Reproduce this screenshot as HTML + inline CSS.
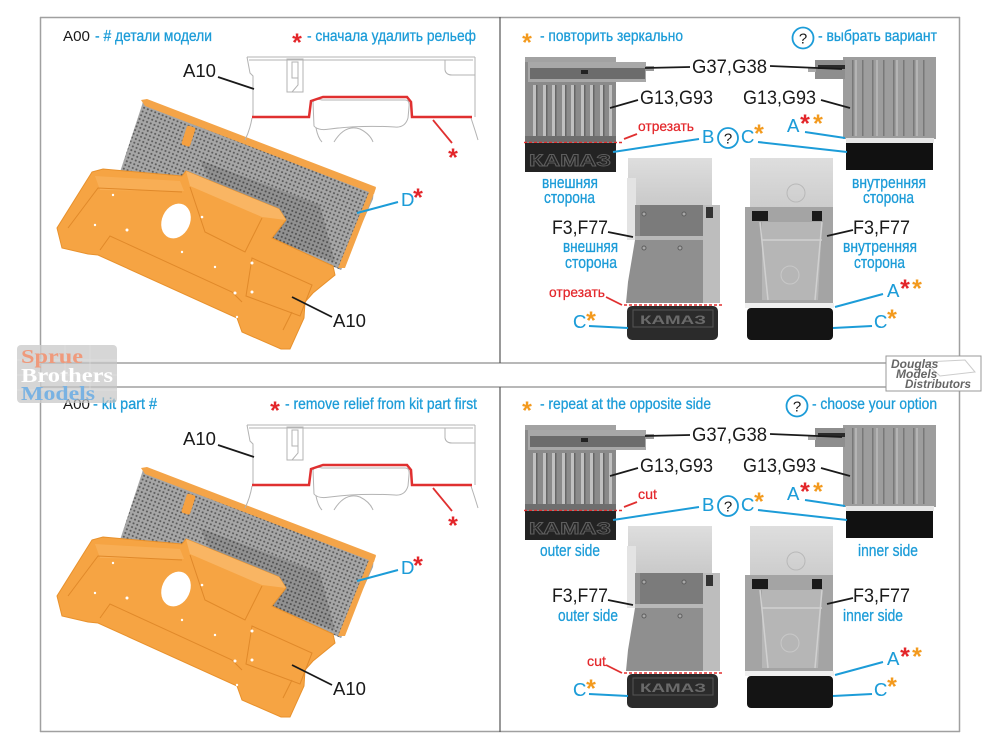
<!DOCTYPE html>
<html><head><meta charset="utf-8"><style>
html,body{margin:0;padding:0;background:#fff;}
svg{display:block;}
text{font-family:"Liberation Sans",Arial,sans-serif;}
.serif{font-family:"Liberation Serif",serif;}
</style></head><body>
<svg width="1000" height="750" viewBox="0 0 1000 750" xmlns="http://www.w3.org/2000/svg">
<defs>
<pattern id="mesh" patternUnits="userSpaceOnUse" width="4" height="4" patternTransform="rotate(22)">
<rect width="4" height="4" fill="#a6a6a6"/>
<circle cx="2" cy="2" r="1.05" fill="#585858"/>
</pattern>
<linearGradient id="lightbox" x1="0" y1="0" x2="0" y2="1">
<stop offset="0" stop-color="#dedede"/><stop offset="1" stop-color="#c9c9c9"/>
</linearGradient>

<g id="part">
<polygon points="143,102 374,189 373,199 341,270 120,172" fill="url(#mesh)"/>
<polygon points="200,160 320,205 335,262 230,225" fill="#000" opacity="0.12"/>
<polygon points="141,100 147,99 376,187 374,194 145,106" fill="#f4a448"/>
<polygon points="369,192 376,188 345,268 338,268" fill="#f4a448"/>
<rect x="184" y="126" width="9" height="20" rx="2" fill="#f5a040" transform="rotate(18 188 136)"/>
<polygon points="92,172 103,169 182,176 186,171 279,209 286,220 272,238 333,266 335,275 313,293 305,302 304,318 290,349 281,349 242,332 237,318 98,255 88,254 62,248 57,228" fill="#f6a443" stroke="#e8912c" stroke-width="1"/>
<polygon points="186,171 279,209 286,220 262,217 190,186" fill="#f9b563"/>
<polygon points="95,176 180,181 184,191 100,190" fill="#f8ae55"/>
<g fill="none" stroke="#e0892a" stroke-width="1">
<path d="M68,228 L98,188 L182,192"/>
<path d="M100,250 L110,236 L232,292 L242,302"/>
<path d="M252,258 L312,285 L300,316 L246,296 Z"/>
<path d="M190,187 L205,232 L245,252 L262,218"/>
<path d="M283,330 L292,312"/>
</g>
<ellipse cx="176" cy="221" rx="14" ry="18" transform="rotate(25 176 221)" fill="#fff"/>
<g fill="#fff">
<circle cx="127" cy="230" r="1.5"/><circle cx="95" cy="225" r="1.2"/><circle cx="113" cy="195" r="1.2"/>
<circle cx="202" cy="217" r="1.3"/><circle cx="182" cy="252" r="1.2"/><circle cx="215" cy="267" r="1.2"/>
<circle cx="252" cy="263" r="1.5"/><circle cx="235" cy="293" r="1.5"/><circle cx="252" cy="292" r="1.5"/>
<circle cx="237" cy="317" r="1.2"/>
</g>
</g>

<g id="draw">
<g fill="none" stroke="#b3b3b3" stroke-width="1">
<path d="M247,57 L475,57 M249,60 L473,60"/>
<path d="M247,57 L250,73 L253,76 L253,117"/>
<path d="M475,57 L475,117"/>
<path d="M445,60 L445,70 Q446,75 452,75 L475,75"/>
<rect x="287" y="59" width="16" height="33"/>
<rect x="292" y="62" width="6" height="16"/>
<path d="M298,78 L298,85 L292,92"/>
<path d="M252,118 Q250,130 245,140"/>
<path d="M471,118 Q475,130 478,140"/>
<path d="M313,102 Q315,98 322,100 L405,100 Q410,100 409,107 L408,118 Q405,128 395,127 Q360,125 330,129 Q318,131 314,126 Z"/>
<path d="M316,128 Q318,138 322,142"/>
<path d="M334,142 Q345,124 360,129 Q370,134 373,142"/>
</g>
<path d="M252,117 L309,117 L311,101 L323,97 L407,97 L411,102 L412,117 L472,117" fill="none" stroke="#e03030" stroke-width="2.5"/>
<path d="M433,120 L452,143" stroke="#e03030" stroke-width="1.8"/>
</g>

<g id="photos">
<rect x="525" y="57" width="91" height="86" fill="#8a8a8a"/>
<rect x="525" y="57" width="91" height="5" fill="#a2a2a2"/>
<rect x="528" y="62" width="118" height="20" fill="#a8a8a8"/>
<rect x="530" y="68" width="115" height="11" fill="#6c6c6c"/>
<rect x="645" y="66" width="9" height="5" fill="#999"/>
<rect x="581" y="70" width="7" height="4" fill="#222"/>
<g fill="#c0c0c0">
<rect x="533" y="85" width="3" height="52"/><rect x="543" y="85" width="3" height="52"/><rect x="552" y="85" width="3" height="52"/>
<rect x="562" y="85" width="3" height="52"/><rect x="571" y="85" width="3" height="52"/><rect x="581" y="85" width="3" height="52"/>
<rect x="590" y="85" width="3" height="52"/><rect x="600" y="85" width="3" height="52"/><rect x="609" y="85" width="3" height="52"/>
</g>
<g fill="#666">
<rect x="536" y="85" width="1.5" height="52"/><rect x="546" y="85" width="1.5" height="52"/><rect x="555" y="85" width="1.5" height="52"/>
<rect x="565" y="85" width="1.5" height="52"/><rect x="574" y="85" width="1.5" height="52"/><rect x="584" y="85" width="1.5" height="52"/>
<rect x="593" y="85" width="1.5" height="52"/><rect x="603" y="85" width="1.5" height="52"/>
</g>
<rect x="525" y="136" width="91" height="6" fill="#6e6e6e"/>
<line x1="524" y1="142.5" x2="622" y2="142.5" stroke="#e03030" stroke-width="1.5" stroke-dasharray="3 2"/>
<rect x="525" y="143" width="91" height="29" fill="#232323"/>
<text x="570" y="166" text-anchor="middle" font-size="17" font-weight="bold" fill="none" stroke="#5e5e5e" stroke-width="0.9" textLength="82" lengthAdjust="spacingAndGlyphs">КАМАЗ</text>
<rect x="843" y="57" width="93" height="82" fill="#9d9d9d"/>
<g fill="#787878">
<rect x="852" y="60" width="1.5" height="76"/><rect x="862" y="60" width="1.5" height="76"/><rect x="872" y="60" width="1.5" height="76"/>
<rect x="883" y="60" width="1.5" height="76"/><rect x="893" y="60" width="1.5" height="76"/><rect x="903" y="60" width="1.5" height="76"/>
<rect x="913" y="60" width="1.5" height="76"/><rect x="923" y="60" width="1.5" height="76"/>
</g>
<g fill="#b4b4b4">
<rect x="855" y="60" width="2" height="76"/><rect x="876" y="60" width="2" height="76"/><rect x="896" y="60" width="2" height="76"/><rect x="916" y="60" width="2" height="76"/>
</g>
<rect x="815" y="60" width="30" height="19" fill="#8e8e8e"/>
<rect x="818" y="65" width="27" height="4" fill="#2a2a2a"/>
<rect x="808" y="68" width="8" height="4" fill="#aaa"/>
<rect x="846" y="138" width="88" height="5" fill="#e6e6e6"/>
<rect x="846" y="143" width="87" height="27" fill="#111"/>
<rect x="628" y="158" width="84" height="48" fill="url(#lightbox)"/>
<rect x="627" y="178" width="9" height="62" fill="#e3e3e3"/>
<polygon points="635,205 720,205 720,303 626,303 628,282 635,240" fill="#8f8f8f"/>
<rect x="640" y="205" width="63" height="31" fill="#7b7b7b"/>
<rect x="635" y="236" width="70" height="4" fill="#b8b8b8"/>
<rect x="703" y="205" width="17" height="98" fill="#bdbdbd"/>
<rect x="706" y="207" width="7" height="11" fill="#333"/>
<g fill="#a8a8a8" stroke="#5e5e5e" stroke-width="1">
<circle cx="644" cy="214" r="2"/><circle cx="684" cy="214" r="2"/><circle cx="644" cy="248" r="2"/><circle cx="680" cy="248" r="2"/>
</g>
<line x1="624" y1="305" x2="722" y2="305" stroke="#e03030" stroke-width="1.5" stroke-dasharray="3 2"/>
<rect x="627" y="306" width="91" height="34" rx="5" fill="#2b2b2b"/>
<rect x="633" y="310" width="80" height="17" fill="none" stroke="#555" stroke-width="1"/>
<text x="673" y="324" text-anchor="middle" font-size="12" font-weight="bold" fill="#6a6a6a" textLength="66" lengthAdjust="spacingAndGlyphs">КАМАЗ</text>
<rect x="750" y="158" width="83" height="60" fill="url(#lightbox)"/>
<circle cx="796" cy="193" r="9" fill="none" stroke="#b8b8b8"/>
<rect x="745" y="207" width="88" height="97" fill="#a4a4a4"/>
<polygon points="762,222 822,222 818,300 762,300" fill="#b6b6b6"/>
<path d="M762,240 L822,240 M760,222 L768,300 M822,222 L815,300" stroke="#d0d0d0" stroke-width="1.5" fill="none"/>
<circle cx="790" cy="275" r="9" fill="none" stroke="#c8c8c8"/>
<rect x="752" y="211" width="16" height="10" fill="#1a1a1a"/>
<rect x="812" y="211" width="10" height="10" fill="#1a1a1a"/>
<rect x="745" y="303" width="89" height="5" fill="#efefef"/>
<rect x="747" y="308" width="86" height="32" rx="4" fill="#141414"/>
</g>
</defs>

<g stroke="#a0a0a0" stroke-width="1.5" fill="none">
<line x1="40" y1="17.5" x2="960" y2="17.5"/>
<line x1="40.5" y1="17" x2="40.5" y2="732"/>
<line x1="959.5" y1="17" x2="959.5" y2="732"/>
<line x1="40" y1="363" x2="960" y2="363"/>
<line x1="40" y1="387" x2="960" y2="387"/>
<line x1="40" y1="731.5" x2="960" y2="731.5"/>
</g>
<line x1="500" y1="17" x2="500" y2="363" stroke="#555" stroke-width="1.2"/>
<line x1="500" y1="387" x2="500" y2="732" stroke="#555" stroke-width="1.2"/>

<use href="#part"/>
<use href="#part" transform="translate(0,368)"/>
<use href="#draw"/>
<use href="#draw" transform="translate(0,368)"/>
<use href="#photos"/>
<use href="#photos" transform="translate(0,368)"/>

<g id="leaders">
<g stroke="#1a1a1a" stroke-width="1.8" fill="none">
<path d="M218,77 L254,89"/>
<path d="M292,297 L332,317"/>
<path d="M645,68 L690,67"/>
<path d="M770,66 L842,69"/>
<path d="M610,108 L638,100"/>
<path d="M821,100 L850,108"/>
<path d="M608,232 L633,237"/>
<path d="M827,236 L853,230"/>
</g>
<g stroke="#1c9cd8" stroke-width="2" fill="none">
<path d="M357,213 L398,202"/>
<path d="M699,139 L613,152"/>
<path d="M758,142 L847,152"/>
<path d="M805,132 L845,138"/>
<path d="M589,326 L628,328"/>
<path d="M883,294 L835,307"/>
<path d="M872,326 L833,328"/>
</g>
<g stroke="#e03030" stroke-width="1.8" fill="none">
<path d="M624,139 L637,134"/>
<path d="M606,297 L622,305"/>
</g>
</g>
<use href="#leaders" transform="translate(0,368)"/>

<g fill="none" stroke="#1c9cd8" stroke-width="1.8">
<circle cx="803" cy="38" r="10.5"/>
<circle cx="728" cy="138" r="10"/>
<circle cx="797" cy="406" r="10.5"/>
<circle cx="728" cy="506" r="10"/>
</g>
<g font-size="15" fill="#1a1a1a" text-anchor="middle">
<text x="803" y="43.5">?</text>
<text x="728" y="143.5">?</text>
<text x="797" y="411.5">?</text>
<text x="728" y="511.5">?</text>
</g>

<g fill="#1a1a1a">
<text x="63" y="41" font-size="15" textLength="27" lengthAdjust="spacingAndGlyphs">A00</text>
<text x="63" y="409" font-size="15" textLength="27" lengthAdjust="spacingAndGlyphs">A00</text>
<g font-size="18">
<text x="183" y="77" textLength="33" lengthAdjust="spacingAndGlyphs">A10</text>
<text x="333" y="327" textLength="33" lengthAdjust="spacingAndGlyphs">A10</text>
<text x="183" y="445" textLength="33" lengthAdjust="spacingAndGlyphs">A10</text>
<text x="333" y="695" textLength="33" lengthAdjust="spacingAndGlyphs">A10</text>
</g>
<g font-size="19.5">
<text x="692" y="73" textLength="75" lengthAdjust="spacingAndGlyphs">G37,G38</text>
<text x="640" y="104" textLength="73" lengthAdjust="spacingAndGlyphs">G13,G93</text>
<text x="743" y="104" textLength="73" lengthAdjust="spacingAndGlyphs">G13,G93</text>
<text x="552" y="234" textLength="56" lengthAdjust="spacingAndGlyphs">F3,F77</text>
<text x="853" y="234" textLength="57" lengthAdjust="spacingAndGlyphs">F3,F77</text>
<text x="692" y="441" textLength="75" lengthAdjust="spacingAndGlyphs">G37,G38</text>
<text x="640" y="472" textLength="73" lengthAdjust="spacingAndGlyphs">G13,G93</text>
<text x="743" y="472" textLength="73" lengthAdjust="spacingAndGlyphs">G13,G93</text>
<text x="552" y="602" textLength="56" lengthAdjust="spacingAndGlyphs">F3,F77</text>
<text x="853" y="602" textLength="57" lengthAdjust="spacingAndGlyphs">F3,F77</text>
</g>
</g>

<g fill="#1c9cd8" stroke="#1c9cd8" stroke-width="0.3">
<g font-size="16">
<text x="95" y="41" textLength="117" lengthAdjust="spacingAndGlyphs">- # детали модели</text>
<text x="307" y="41" textLength="169" lengthAdjust="spacingAndGlyphs">- сначала удалить рельеф</text>
<text x="540" y="41" textLength="143" lengthAdjust="spacingAndGlyphs">- повторить зеркально</text>
<text x="818" y="41" textLength="119" lengthAdjust="spacingAndGlyphs">- выбрать вариант</text>
<text x="93" y="409" textLength="64" lengthAdjust="spacingAndGlyphs">- kit part #</text>
<text x="285" y="409" textLength="192" lengthAdjust="spacingAndGlyphs">- remove relief from kit part first</text>
<text x="540" y="409" textLength="171" lengthAdjust="spacingAndGlyphs">- repeat at the opposite side</text>
<text x="812" y="409" textLength="125" lengthAdjust="spacingAndGlyphs">- choose your option</text>
</g>
<g font-size="17">
<text x="542" y="188" textLength="56" lengthAdjust="spacingAndGlyphs">внешняя</text>
<text x="544" y="203" textLength="51" lengthAdjust="spacingAndGlyphs">сторона</text>
<text x="852" y="188" textLength="74" lengthAdjust="spacingAndGlyphs">внутренняя</text>
<text x="863" y="203" textLength="51" lengthAdjust="spacingAndGlyphs">сторона</text>
<text x="563" y="252" textLength="55" lengthAdjust="spacingAndGlyphs">внешняя</text>
<text x="565" y="268" textLength="52" lengthAdjust="spacingAndGlyphs">сторона</text>
<text x="843" y="252" textLength="74" lengthAdjust="spacingAndGlyphs">внутренняя</text>
<text x="854" y="268" textLength="51" lengthAdjust="spacingAndGlyphs">сторона</text>
<text x="540" y="556" textLength="60" lengthAdjust="spacingAndGlyphs">outer side</text>
<text x="858" y="556" textLength="60" lengthAdjust="spacingAndGlyphs">inner side</text>
<text x="558" y="621" textLength="60" lengthAdjust="spacingAndGlyphs">outer side</text>
<text x="843" y="621" textLength="60" lengthAdjust="spacingAndGlyphs">inner side</text>
</g>
<g font-size="18.5" stroke-width="0.1">
<text x="401" y="206">D</text>
<text x="401" y="574">D</text>
<text x="702" y="143">B</text>
<text x="741" y="143">C</text>
<text x="787" y="132">A</text>
<text x="573" y="328">C</text>
<text x="887" y="297">A</text>
<text x="874" y="328">C</text>
<text x="702" y="511">B</text>
<text x="741" y="511">C</text>
<text x="787" y="500">A</text>
<text x="573" y="696">C</text>
<text x="887" y="665">A</text>
<text x="874" y="696">C</text>
</g>
</g>

<g fill="#e3262a" stroke="#e3262a" stroke-width="0.25" font-size="14">
<text x="638" y="131" textLength="56" lengthAdjust="spacingAndGlyphs">отрезать</text>
<text x="549" y="297" textLength="56" lengthAdjust="spacingAndGlyphs">отрезать</text>
<text x="638" y="499" textLength="19" lengthAdjust="spacingAndGlyphs">cut</text>
<text x="587" y="666" textLength="19" lengthAdjust="spacingAndGlyphs">cut</text>
</g>

<g font-size="25" font-weight="bold" text-anchor="middle">
<g fill="#e3262a">
<text x="297" y="51">*</text>
<text x="453" y="166">*</text>
<text x="418" y="206">*</text>
<text x="805" y="132">*</text>
<text x="905" y="297">*</text>
<text x="275" y="419">*</text>
<text x="453" y="534">*</text>
<text x="418" y="574">*</text>
<text x="805" y="500">*</text>
<text x="905" y="665">*</text>
</g>
<g fill="#f39a1e">
<text x="527" y="51">*</text>
<text x="759" y="142">*</text>
<text x="818" y="132">*</text>
<text x="591" y="329">*</text>
<text x="917" y="297">*</text>
<text x="892" y="327">*</text>
<text x="527" y="419">*</text>
<text x="759" y="510">*</text>
<text x="818" y="500">*</text>
<text x="591" y="697">*</text>
<text x="917" y="665">*</text>
<text x="892" y="695">*</text>
</g>
</g>

<g>
<rect x="17" y="345" width="100" height="58" rx="4" fill="#c4c4c4" opacity="0.7"/>
<g stroke="#e2e2e2" stroke-width="0.7" opacity="0.8">
<line x1="17" y1="360" x2="117" y2="360"/><line x1="17" y1="375" x2="117" y2="375"/><line x1="17" y1="390" x2="117" y2="390"/>
<line x1="40" y1="345" x2="40" y2="403"/><line x1="65" y1="345" x2="65" y2="403"/><line x1="90" y1="345" x2="90" y2="403"/>
</g>
<text class="serif" x="21" y="363" font-size="20" font-weight="bold" fill="#ef9a7c" textLength="62" lengthAdjust="spacingAndGlyphs">Sprue</text>
<text class="serif" x="21" y="382" font-size="20" font-weight="bold" fill="#ffffff" textLength="92" lengthAdjust="spacingAndGlyphs">Brothers</text>
<text class="serif" x="21" y="400" font-size="20" font-weight="bold" fill="#79b2e2" textLength="74" lengthAdjust="spacingAndGlyphs">Models</text>
</g>

<g>
<rect x="886" y="356" width="95" height="35" fill="#fff" stroke="#999" stroke-width="1"/>
<path d="M925,362 L965,360 L975,372 L940,376 Z" fill="none" stroke="#ccc" stroke-width="1"/>
<text x="891" y="368" font-size="12" font-style="italic" font-weight="bold" fill="#666">Douglas</text>
<text x="896" y="378" font-size="12" font-style="italic" font-weight="bold" fill="#666">Models</text>
<text x="905" y="388" font-size="12" font-style="italic" font-weight="bold" fill="#666" textLength="66" lengthAdjust="spacingAndGlyphs">Distributors</text>
</g>
</svg>
</body></html>
